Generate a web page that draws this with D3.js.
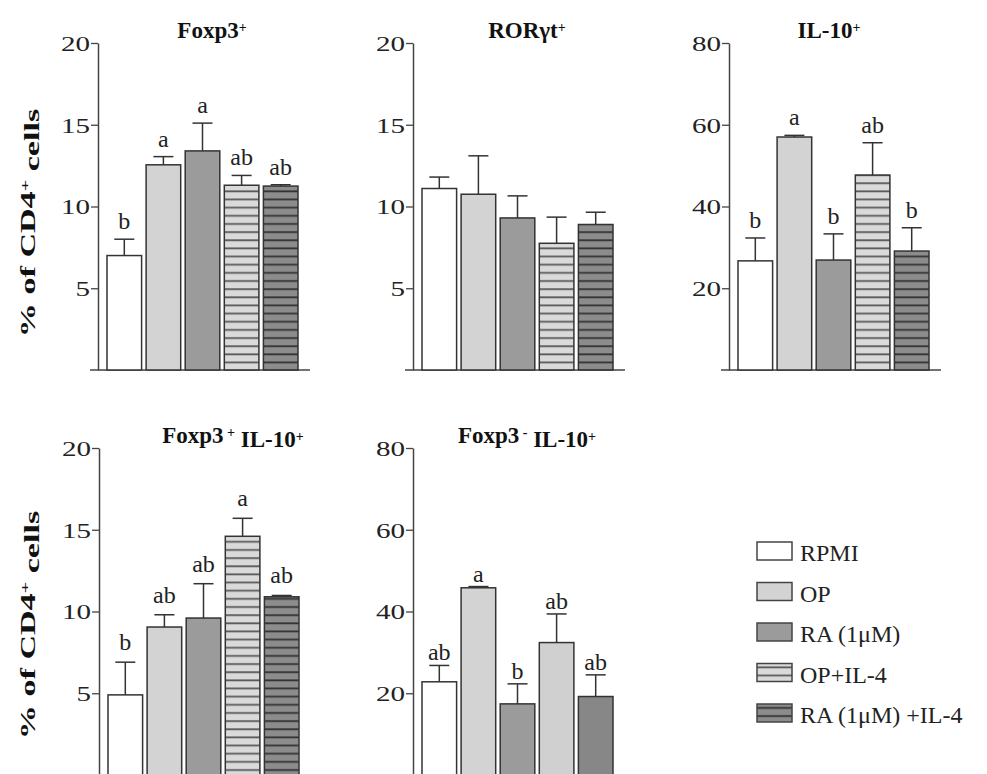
<!DOCTYPE html>
<html>
<head>
<meta charset="utf-8">
<script src="https://cdn.jsdelivr.net/npm/d3@7"></script>
<style>
  body { margin: 0; background: #fff; }
  svg { display: block; font-family: "Liberation Serif", "Times New Roman", serif; }
</style>
</head>
<body>
<div id="chart"></div>
<script>
// groups (same order in every panel)
const groups = ['RPMI', 'OP', 'RA (1\u03bcM)', 'OP+IL-4', 'RA (1\u03bcM) +IL-4'];

// Foxp3+
const foxp3Mean = [7.0, 12.55, 13.4, 11.3, 11.25];
const foxp3Err = [1.0, 0.5, 1.7, 0.6, 0.08];
const foxp3Letters = ['b', 'a', 'a', 'ab', 'ab'];

// RORyt+
const rorMean = [11.1, 10.75, 9.3, 7.75, 8.9];
const rorErr = [0.7, 2.35, 1.35, 1.6, 0.75];
const rorLetters = ['', '', '', '', ''];

// IL-10+
const il10Mean = [26.7, 57.0, 26.9, 47.7, 29.1];
const il10Err = [5.6, 0.4, 6.4, 7.9, 5.7];
const il10Letters = ['b', 'a', 'b', 'ab', 'b'];

// Foxp3+ IL-10+
const dpMean = [4.9, 9.05, 9.6, 14.6, 10.9];
const dpErr = [2.0, 0.75, 2.1, 1.1, 0.08];
const dpLetters = ['b', 'ab', 'ab', 'a', 'ab'];

// Foxp3- IL-10+
const dnMean = [22.8, 45.8, 17.4, 32.4, 19.2];
const dnErr = [4.0, 0.3, 4.9, 7.0, 5.3];
const dnLetters = ['ab', 'a', 'b', 'ab', 'ab'];

const ticks20 = [5, 10, 15, 20];
const ticks80 = [20, 40, 60, 80];

const width = 987, height = 774;
const plotH = 327;     // axis length, top tick -> baseline
const barSpan = 191;   // first bar left -> last bar right

const fills = ['#ffffff', '#d3d3d3', '#9b9b9b', 'url(#stripeLight)', 'url(#stripeDark)'];
// last panel draws the +IL-4 bars plain
const fillsPlain = ['#ffffff', '#d3d3d3', '#9b9b9b', '#d0d0d0', '#878787'];

const panels = [
  { title: [['Foxp3'], ['+', 'sup']], mean: foxp3Mean, err: foxp3Err, letters: foxp3Letters,
    max: 20, ticks: ticks20, x0: 98, y0: 43, titleX: 212, gap: 10, fills },
  { title: [['ROR\u03b3t'], ['+', 'sup']], mean: rorMean, err: rorErr, letters: rorLetters,
    max: 20, ticks: ticks20, x0: 413, y0: 43, titleX: 527, gap: 10, fills },
  { title: [['IL-10'], ['+', 'sup']], mean: il10Mean, err: il10Err, letters: il10Letters,
    max: 80, ticks: ticks80, x0: 729, y0: 43, titleX: 829, gap: 10, fills },
  { title: [['Foxp3'], [' +', 'sup'], [' IL-10'], ['+', 'sup']], mean: dpMean, err: dpErr, letters: dpLetters,
    max: 20, ticks: ticks20, x0: 99, y0: 448, titleX: 233, gap: 12, fills },
  { title: [['Foxp3'], [' -', 'sup'], [' IL-10'], ['+', 'sup']], mean: dnMean, err: dnErr, letters: dnLetters,
    max: 80, ticks: ticks80, x0: 413, y0: 448, titleX: 527, gap: 5, fills: fillsPlain }
];

const svg = d3.select('#chart')
  .append('svg')
  .attr('width', width)
  .attr('height', height);

// stripe patterns for the +IL-4 groups
const defs = svg.append('defs');
function stripes(id, bg, line) {
  const p = defs.append('pattern')
    .attr('id', id)
    .attr('patternUnits', 'userSpaceOnUse')
    .attr('width', 10)
    .attr('height', 8.15);
  p.append('rect').attr('width', 10).attr('height', 8.15).attr('fill', bg);
  p.append('rect').attr('y', 3).attr('width', 10).attr('height', 1.8).attr('fill', line);
}
stripes('stripeLight', '#dadada', '#5a5a5a');
stripes('stripeDark', '#8c8c8c', '#333333');

// adds text with superscript parts
function richText(sel, parts, supSize) {
  let raised = false;
  parts.forEach(([t, kind]) => {
    const span = sel.append('tspan').text(t);
    if (kind === 'sup') {
      span.attr('dy', '-0.45em').attr('font-size', supSize);
      raised = true;
    } else if (raised) {
      span.attr('dy', '0.45em');
      raised = false;
    }
  });
}

panels.forEach((p) => {
  const y = d3.scaleLinear().domain([0, p.max]).range([p.y0 + plotH, p.y0]);
  const x = d3.scaleBand()
    .domain(groups)
    .range([p.x0 + 9, p.x0 + 9 + barSpan])
    .paddingInner(0.115)
    .paddingOuter(0);

  const g = svg.append('g');

  // baseline
  g.append('line')
    .attr('x1', p.x0 - 8).attr('x2', p.x0 + 212)
    .attr('y1', y(0)).attr('y2', y(0))
    .attr('stroke', '#444').attr('stroke-width', 1.5);

  const axis = g.append('g')
    .attr('transform', `translate(${p.x0},0)`)
    .call(d3.axisLeft(y).tickValues(p.ticks).tickSize(7).tickSizeOuter(0).tickPadding(0));
  axis.select('.domain').attr('stroke', '#444').attr('stroke-width', 1.5);
  axis.selectAll('.tick line').attr('stroke', '#444').attr('stroke-width', 1.3);
  axis.selectAll('.tick text')
    .attr('x', -6)
    .attr('dy', '0.34em')
    .attr('transform', 'scale(1.32,1)')
    .attr('font-family', '"Liberation Serif", serif')
    .attr('font-size', 22)
    .attr('fill', '#222');

  // bars
  g.selectAll('rect.bar')
    .data(p.mean)
    .join('rect')
    .attr('class', 'bar')
    .attr('x', (d, i) => x(groups[i]))
    .attr('y', (d) => y(d))
    .attr('width', x.bandwidth())
    .attr('height', (d) => y(0) - y(d))
    .attr('fill', (d, i) => p.fills[i])
    .attr('stroke', '#333')
    .attr('stroke-width', 1.5);

  // upper error whiskers
  const cap = 10;
  p.mean.forEach((m, i) => {
    const cx = x(groups[i]) + x.bandwidth() / 2;
    const top = y(m + p.err[i]);
    g.append('line')
      .attr('x1', cx).attr('x2', cx)
      .attr('y1', y(m)).attr('y2', top)
      .attr('stroke', '#333').attr('stroke-width', 1.5);
    g.append('line')
      .attr('x1', cx - cap).attr('x2', cx + cap)
      .attr('y1', top).attr('y2', top)
      .attr('stroke', '#333').attr('stroke-width', 1.5);
    if (p.letters[i]) {
      g.append('text')
        .attr('x', cx)
        .attr('y', top - p.gap)
        .attr('text-anchor', 'middle')
        .attr('font-size', 24)
        .attr('fill', '#222')
        .text(p.letters[i]);
    }
  });

  // title
  const t = g.append('text')
    .attr('x', p.titleX)
    .attr('y', p.y0 - 5)
    .attr('text-anchor', 'middle')
    .attr('font-size', 23)
    .attr('font-weight', 'bold')
    .attr('fill', '#111');
  richText(t, p.title, 14);
});

// y-axis labels, one per row
[223, 625].forEach((cy) => {
  const t = svg.append('text')
    .attr('transform', `translate(27,${cy}) rotate(-90) scale(1.55,1)`)
    .attr('text-anchor', 'middle')
    .attr('dy', '0.35em')
    .attr('font-size', 22)
    .attr('font-weight', 'bold')
    .attr('fill', '#111');
  richText(t, [['% of CD4'], ['+', 'sup'], [' cells']], 13);
});

// legend
const legend = svg.append('g').attr('transform', 'translate(757,542)');
groups.forEach((name, i) => {
  const row = legend.append('g').attr('transform', `translate(0,${i * 40.5})`);
  row.append('rect')
    .attr('width', 35).attr('height', 18)
    .attr('fill', fills[i])
    .attr('stroke', '#444').attr('stroke-width', 1.5);
  row.append('text')
    .attr('x', 43).attr('y', 19)
    .attr('font-size', 24)
    .attr('fill', '#222')
    .text(name);
});
</script>
</body>
</html>
